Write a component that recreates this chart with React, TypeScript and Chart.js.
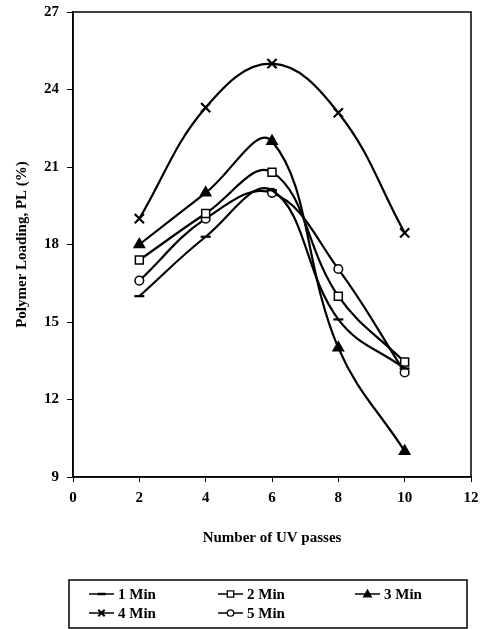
import React, { useEffect, useRef } from "react";
import { Chart, registerables } from "chart.js";

Chart.register(...registerables);

const passes = [2, 4, 6, 8, 10];
const seriesLabels = ["1 Min", "2 Min", "3 Min", "4 Min", "5 Min"];
const min1 = [16.0, 18.3, 20.1, 15.1, 13.2];
const min2 = [17.4, 19.2, 20.8, 16.0, 13.45];
const min3 = [18.0, 20.0, 22.0, 14.0, 10.0];
const min4 = [19.0, 23.3, 25.0, 23.1, 18.45];
const min5 = [16.6, 19.0, 20.0, 17.05, 13.05];
const xTicks = [0, 2, 4, 6, 8, 10, 12];
const yTicks = [9, 12, 15, 18, 21, 24, 27];

const FONT = "'Liberation Serif', 'Times New Roman', serif";

const styles = [
  { pointStyle: "line", radius: 5, bg: "#000" },
  { pointStyle: "rect", radius: 5.6, bg: "#fff" },
  { pointStyle: "triangle", radius: 6, bg: "#000" },
  { pointStyle: "crossRot", radius: 6.5, bg: "#000" },
  { pointStyle: "circle", radius: 4.3, bg: "#fff" },
];

function drawMarker(ctx: CanvasRenderingContext2D, style: string, x: number, y: number, r: number, bg: string) {
  ctx.save();
  ctx.strokeStyle = "#000";
  ctx.fillStyle = bg;
  ctx.lineWidth = 1.3;
  ctx.beginPath();
  if (style === "rect") {
    ctx.rect(x - r, y - r, 2 * r, 2 * r);
    ctx.fill();
    ctx.stroke();
  } else if (style === "circle") {
    ctx.arc(x, y, r, 0, Math.PI * 2);
    ctx.fill();
    ctx.stroke();
  } else if (style === "triangle") {
    ctx.moveTo(x, y - r);
    ctx.lineTo(x + r * 0.95, y + r * 0.7);
    ctx.lineTo(x - r * 0.95, y + r * 0.7);
    ctx.closePath();
    ctx.fill();
    ctx.stroke();
  } else if (style === "crossRot") {
    ctx.lineWidth = 2;
    ctx.moveTo(x - r, y - r);
    ctx.lineTo(x + r, y + r);
    ctx.moveTo(x + r, y - r);
    ctx.lineTo(x - r, y + r);
    ctx.stroke();
  } else if (style === "line") {
    ctx.lineWidth = 2.5;
    ctx.moveTo(x - r, y);
    ctx.lineTo(x + r, y);
    ctx.stroke();
  }
  ctx.restore();
}

const frame = {
  id: "frame",
  afterDatasetsDraw(chart: any) {
    const { ctx, chartArea } = chart;
    ctx.save();
    ctx.strokeStyle = "#000";
    ctx.lineWidth = 1.5;
    ctx.strokeRect(chartArea.left, chartArea.top, chartArea.right - chartArea.left, chartArea.bottom - chartArea.top);
    ctx.restore();
  },
};

const boxLegend = {
  id: "boxLegend",
  afterDraw(chart: any) {
    const ctx = chart.ctx;
    const bx = 69, by = 580, bw = 398, bh = 48;
    ctx.save();
    ctx.strokeStyle = "#000";
    ctx.lineWidth = 1.5;
    ctx.strokeRect(bx, by, bw, bh);
    const cols = [20, 149, 286];
    const rows = [14, 33];
    chart.data.datasets.forEach((ds: any, i: number) => {
      const cx = bx + cols[i % 3];
      const cy = by + rows[Math.floor(i / 3)];
      ctx.strokeStyle = "#000";
      ctx.lineWidth = 1.5;
      ctx.beginPath();
      ctx.moveTo(cx, cy);
      ctx.lineTo(cx + 25, cy);
      ctx.stroke();
      const st = styles[i];
      const r = st.pointStyle === "line" ? 4 : st.pointStyle === "triangle" ? 4 : 3.2;
      drawMarker(ctx, st.pointStyle, cx + 12.5, cy, r, st.bg);
      ctx.fillStyle = "#000";
      ctx.font = `bold 15px ${FONT}`;
      ctx.textBaseline = "middle";
      ctx.textAlign = "left";
      ctx.fillText(ds.label, cx + 29, cy + 1);
    });
    ctx.restore();
  },
};

export default function App() {
  const ref = useRef<HTMLCanvasElement | null>(null);
  useEffect(() => {
    document.body.style.margin = "0";
    const data = [min1, min2, min3, min4, min5];
    const chart = new Chart(ref.current as HTMLCanvasElement, {
      type: "line",
      data: {
        datasets: data.map((vals, i) => ({
          label: seriesLabels[i],
          data: vals.map((v, j) => ({ x: passes[j], y: v })),
          borderColor: "#000",
          borderWidth: 2.2,
          tension: 0.4,
          pointStyle: styles[i].pointStyle as any,
          pointRadius: styles[i].radius,
          pointBackgroundColor: styles[i].bg,
          pointBorderColor: "#000",
          pointBorderWidth: i === 0 || i === 3 ? 2.2 : 1.5,
          fill: false,
        })),
      },
      options: {
        animation: false,
        responsive: false,
        layout: { padding: { left: 0, top: 12, right: 10, bottom: 69 } },
        plugins: { legend: { display: false }, tooltip: { enabled: false } },
        scales: {
          x: {
            type: "linear",
            min: 0,
            max: 12,
            afterBuildTicks: (s: any) => { s.ticks = xTicks.map((v) => ({ value: v })); },
            afterFit: (s: any) => { s.height = 83; s.paddingLeft = 0; s.paddingRight = 0; },
            grid: { display: true, drawOnChartArea: false, drawTicks: true, tickLength: 5, color: "#000", lineWidth: 1 },
            border: { display: true, color: "#000", width: 1.5 },
            ticks: { color: "#000", font: { family: FONT, size: 15, weight: "bold" }, padding: 7, maxRotation: 0 },
            title: { display: true, text: "Number of UV passes", color: "#000", font: { family: FONT, size: 15, weight: "bold" }, padding: { top: 0, bottom: 13 } },
          },
          y: {
            min: 9,
            max: 27,
            afterBuildTicks: (s: any) => { s.ticks = yTicks.map((v) => ({ value: v })); },
            afterFit: (s: any) => { s.width = 73; s.paddingTop = 0; s.paddingBottom = 0; },
            grid: { display: true, drawOnChartArea: false, drawTicks: true, tickLength: 6, color: "#000", lineWidth: 1 },
            border: { display: true, color: "#000", width: 1.5 },
            ticks: { color: "#000", font: { family: FONT, size: 15, weight: "bold" }, padding: 8 },
            title: { display: true, text: "Polymer Loading, PL (%)", color: "#000", font: { family: FONT, size: 15, weight: "bold" }, padding: { top: 13, bottom: 0 } },
          },
        },
      },
      plugins: [frame, boxLegend],
    } as any);
    return () => chart.destroy();
  }, []);
  return <canvas ref={ref} width={481} height={629} style={{ display: "block" }} />;
}
